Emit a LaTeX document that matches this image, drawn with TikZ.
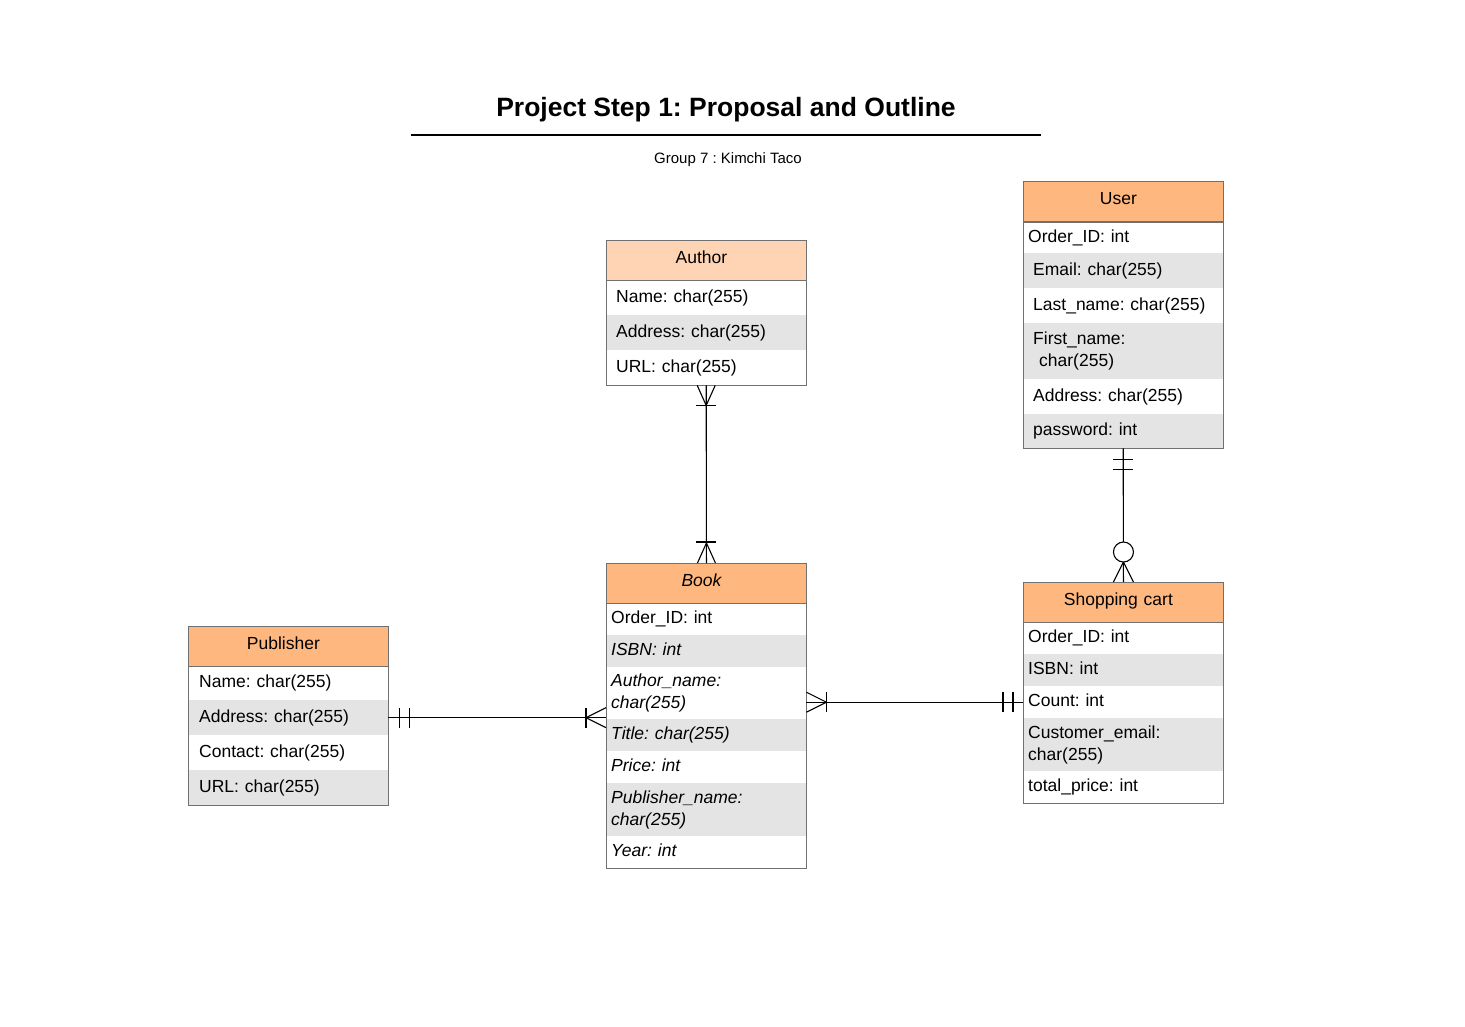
\documentclass[tikz,border=0pt]{standalone}
\usepackage{fontspec}
\setmainfont{Liberation Sans}
\usetikzlibrary{calc}
\definecolor{hdrorange}{HTML}{FFB780}
\definecolor{hdrlight}{HTML}{FFD4B4}
\definecolor{rowgray}{HTML}{E4E4E4}
\definecolor{bordergray}{HTML}{707070}
\newcommand\erfont{\frenchspacing\fontsize{17.5}{22}\selectfont}
\begin{document}
\frenchspacing
\begin{tikzpicture}[x=1pt,y=-1pt,
  hdr/.style={draw=bordergray, line width=0.9pt, fill=hdrorange, minimum width=200pt, minimum height=40pt,
    inner sep=0pt, anchor=north west, font=\erfont, text width=200pt, align=center,
    text height=11pt, text depth=5pt},
  rowbase/.style={minimum width=200pt, inner ysep=0pt, anchor=north west, font=\erfont, align=left},
  roww/.style={rowbase, fill=white},
  rowg/.style={rowbase, fill=rowgray},
  one/.style={text height=13pt, text depth=4pt},
  pad/.style={inner xsep=#1, text width=200pt-2*#1},
  frame/.style={draw=bordergray, line width=0.9pt},
  conn/.style={draw=black, line width=1.1pt},
]
\useasboundingbox[fill=white] (0,0) rectangle (1465,1026);

% title
\node[font=\bfseries\fontsize{26.5}{30}\selectfont] (title) at (726,110) {Project Step 1: Proposal and Outline};
\coordinate (rulel) at (411,135);
\coordinate (ruler) at (1041,135);
\draw[line width=2pt] (rulel) -- (ruler);
\node[font=\frenchspacing\fontsize{15}{18}\selectfont] (subtitle) at (728,160) {Group 7 : Kimchi Taco};

% Author
\node[hdr, fill=hdrlight] (aHead) at (606,240) {Author\kern10pt};
\node[roww, one, pad=10pt, minimum height=35pt] (aName) at (606,280) {Name: char(255)};
\node[rowg, one, pad=10pt, minimum height=35pt] (aAddr) at (606,315) {Address: char(255)};
\node[roww, one, pad=10pt, minimum height=35pt] (aUrl) at (606,350) {URL: char(255)};
\draw[frame] (aName.north west) rectangle (aUrl.south east);
\draw[frame] (aHead.north west) rectangle (aHead.south east);

% User
\node[hdr] (uHead) at (1023,181) {User\kern10pt};
\node[roww, one, pad=5pt, minimum height=31pt] (uOrd) at (1023,222) {Order\_ID: int};
\node[rowg, one, pad=10pt, minimum height=35pt] (uMail) at (1023,253) {Email: char(255)};
\node[roww, one, pad=10pt, minimum height=35pt] (uLast) at (1023,288) {Last\_name: char(255)};
\node[rowg, pad=10pt, minimum height=56pt] (uFirst) at (1023,323) {First\_name:\\\hspace*{6pt}char(255)};
\node[roww, one, pad=10pt, minimum height=35pt] (uAddr) at (1023,379) {Address: char(255)};
\node[rowg, one, pad=10pt, minimum height=34pt] (uPw) at (1023,414) {password: int};
\draw[frame] (uOrd.north west) rectangle (uPw.south east);
\draw[frame] (uHead.north west) rectangle (uHead.south east);

% Book
\node[hdr] (bHead) at (606,563) {\itshape Book\kern10pt};
\node[roww, one, pad=5pt, minimum height=32pt] (bOrd) at (606,603) {Order\_ID: int};
\node[rowg, one, pad=5pt, minimum height=32pt] (bIsbn) at (606,635) {\itshape ISBN: int};
\node[roww, pad=5pt, minimum height=52pt] (bAuth) at (606,667) {\itshape Author\_name:\\char(255)};
\node[rowg, one, pad=5pt, minimum height=32pt] (bTitle) at (606,719) {\itshape Title: char(255)};
\node[roww, one, pad=5pt, minimum height=32pt] (bPrice) at (606,751) {\itshape Price: int};
\node[rowg, pad=5pt, minimum height=53pt] (bPub) at (606,783) {\itshape Publisher\_name:\\char(255)};
\node[roww, one, pad=5pt, minimum height=32pt] (bYear) at (606,836) {\itshape Year: int};
\draw[frame] (bOrd.north west) rectangle (bYear.south east);
\draw[frame] (bHead.north west) rectangle (bHead.south east);

% Shopping cart
\node[hdr] (cHead) at (1023,582) {Shopping cart\kern10pt};
\node[roww, one, pad=5pt, minimum height=32pt] (cOrd) at (1023,622) {Order\_ID: int};
\node[rowg, one, pad=5pt, minimum height=32pt] (cIsbn) at (1023,654) {ISBN: int};
\node[roww, one, pad=5pt, minimum height=32pt] (cCount) at (1023,686) {Count: int};
\node[rowg, pad=5pt, minimum height=53pt] (cMail) at (1023,718) {Customer\_email:\\char(255)};
\node[roww, one, pad=5pt, minimum height=32pt] (cTotal) at (1023,771) {total\_price: int};
\draw[frame] (cOrd.north west) rectangle (cTotal.south east);
\draw[frame] (cHead.north west) rectangle (cHead.south east);

% Publisher
\node[hdr] (pHead) at (188,626) {Publisher\kern10pt};
\node[roww, one, pad=11pt, minimum height=34pt] (pName) at (188,666) {Name: char(255)};
\node[rowg, one, pad=11pt, minimum height=35pt] (pAddr) at (188,700) {Address: char(255)};
\node[roww, one, pad=11pt, minimum height=35pt] (pCont) at (188,735) {Contact: char(255)};
\node[rowg, one, pad=11pt, minimum height=35pt] (pUrl) at (188,770) {URL: char(255)};
\draw[frame] (pName.north west) rectangle (pUrl.south east);
\draw[frame] (pHead.north west) rectangle (pHead.south east);

% Author -- Book (one-or-many both ends)
\coordinate (ab1) at (aUrl.south);
\coordinate (ab2) at (bHead.north);
\draw[conn] (ab1) -- (ab2);
\draw[conn] ([shift={(-9,0)}]ab1) -- ([shift={(0,20)}]ab1) -- ([shift={(9,0)}]ab1);
\draw[conn] ([shift={(-10,20)}]ab1) -- ([shift={(10,20)}]ab1);
\draw[conn] ([shift={(-9,0)}]ab2) -- ([shift={(0,-20)}]ab2) -- ([shift={(9,0)}]ab2);
\draw[conn] ([shift={(-10,-21)}]ab2) -- ([shift={(10,-21)}]ab2);

% User -- Shopping cart (one-and-only-one to zero-or-many)
\coordinate (uc1) at (uPw.south);
\coordinate (uc2) at (cHead.north);
\draw[conn] (uc1) -- (uc2);
\draw[conn] ([shift={(-10,11)}]uc1) -- ([shift={(10,11)}]uc1);
\draw[conn] ([shift={(-10,21)}]uc1) -- ([shift={(10,21)}]uc1);
\draw[conn] ([shift={(-10,0)}]uc2) -- ([shift={(0,-20)}]uc2) -- ([shift={(10,0)}]uc2);
\draw[conn, fill=white] ([shift={(0,-30)}]uc2) circle[radius=10pt];

% Publisher -- Book
\coordinate (pb1) at (pAddr.east);
\coordinate (pb2) at (pAddr.east -| bAuth.west);
\draw[conn] (pb1) -- (pb2);
\draw[conn] ([shift={(11,-10)}]pb1) -- ([shift={(11,10)}]pb1);
\draw[conn] ([shift={(21,-10)}]pb1) -- ([shift={(21,10)}]pb1);
\draw[conn] ([shift={(0,-10)}]pb2) -- ([shift={(-20,0)}]pb2) -- ([shift={(0,10)}]pb2);
\draw[conn] ([shift={(-20,-10)}]pb2) -- ([shift={(-20,10)}]pb2);

% Book -- Shopping cart
\coordinate (bc2) at (cCount.west);
\coordinate (bc1) at (cCount.west -| bAuth.east);
\draw[conn] (bc1) -- (bc2);
\draw[conn] ([shift={(0,-10)}]bc1) -- ([shift={(20,0)}]bc1) -- ([shift={(0,10)}]bc1);
\draw[conn] ([shift={(20,-10)}]bc1) -- ([shift={(20,10)}]bc1);
\draw[conn] ([shift={(-20,-10)}]bc2) -- ([shift={(-20,10)}]bc2);
\draw[conn] ([shift={(-10,-10)}]bc2) -- ([shift={(-10,10)}]bc2);
\end{tikzpicture}
\end{document}
